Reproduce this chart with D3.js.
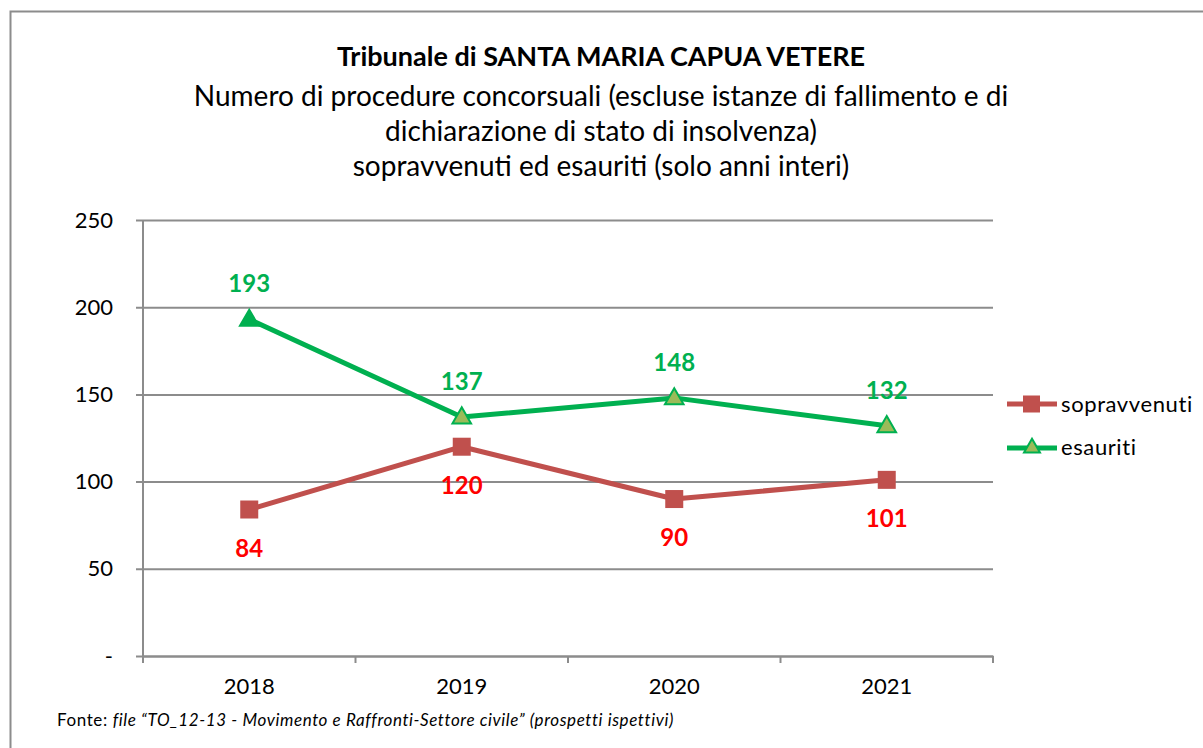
<!DOCTYPE html>
<html>
<head>
<meta charset="utf-8">
<script src="https://cdn.jsdelivr.net/npm/d3@7"></script>
<style>
body {margin:0; background:#ffffff;}
svg {display:block; font-family:Lato, "Open Sans", sans-serif;}
</style>
</head>
<body>
<svg id="chart"></svg>
<script>
//the years on the x axis
var years = ["2018","2019","2020","2021"];

//values
var sopravvenuti = [84,120,90,101];
var esauriti = [193,137,148,132];

//y axis ticks, 0 is shown as "-"
var yTicks = [0,50,100,150,200,250];

var titleLines = [
    "Numero di procedure concorsuali (escluse istanze di fallimento e di",
    "dichiarazione di stato di insolvenza)",
    "sopravvenuti ed esauriti (solo anni interi)"
];

var screen = {width:1203, height:748};
var margins = {top:220, bottom:92, left:143, right:210};
var graph =
{
    width:screen.width-margins.left-margins.right,
    height:screen.height-margins.top-margins.bottom
};

var svg = d3.select("#chart")
    .attr("width",screen.width)
    .attr("height",screen.height);

//outer frame of the chart
svg.append("rect")
    .attr("x",10.5)
    .attr("y",11.5)
    .attr("width",1300)
    .attr("height",900)
    .attr("fill","white")
    .attr("stroke","#8c8c8c")
    .attr("stroke-width",2);

//titles
svg.append("text")
    .attr("x",601)
    .attr("y",66)
    .attr("text-anchor","middle")
    .attr("font-weight","bold")
    .attr("font-size",27)
    .attr("fill","#000")
    .text("Tribunale di SANTA MARIA CAPUA VETERE");

svg.selectAll(".sub")
    .data(titleLines)
    .enter()
    .append("text")
    .attr("x",601)
    .attr("y",function(d,i){return 106+i*35;})
    .attr("text-anchor","middle")
    .attr("font-size",28)
    .attr("fill","#000")
    .text(function(d){return d;});

var xScale = d3.scaleBand()
    .domain(years)
    .range([0,graph.width]);

var yScale = d3.scaleLinear()
    .domain([0,250])
    .range([graph.height,0]);

var g = svg.append("g")
    .attr("transform","translate("+margins.left+","+margins.top+")");

//gridlines with the small ticks to the left
var yAxis = d3.axisLeft(yScale)
    .tickValues(yTicks)
    .tickSize(-graph.width)
    .tickPadding(30)
    .tickFormat(function(d){return d==0 ? "-" : d;});

g.append("g")
    .call(yAxis)
    .call(function(a){
        a.select(".domain").remove();
        a.selectAll("line")
            .attr("x1",-7)
            .attr("stroke","#8c8c8c")
            .attr("stroke-width",2);
        a.selectAll("text")
            .attr("font-size",22)
            .attr("font-family","Lato, sans-serif")
            .attr("fill","#000");
    });

//y axis line
g.append("line")
    .attr("x1",0).attr("x2",0)
    .attr("y1",0).attr("y2",graph.height+6)
    .attr("stroke","#8c8c8c")
    .attr("stroke-width",2);

//x axis with ticks between the categories
var xAxis = d3.axisBottom(xScale)
    .tickSize(0)
    .tickPadding(22);

g.append("g")
    .attr("transform","translate(0,"+graph.height+")")
    .call(xAxis)
    .call(function(a){
        a.select(".domain").attr("stroke","#8c8c8c").attr("stroke-width",2);
        a.selectAll("text")
            .attr("font-size",22)
            .attr("font-family","Lato, sans-serif")
            .attr("fill","#000");
    });

g.selectAll(".xtick")
    .data(years.concat(["end"]))
    .enter()
    .append("line")
    .attr("x1",function(d,i){return i*xScale.step();})
    .attr("x2",function(d,i){return i*xScale.step();})
    .attr("y1",graph.height)
    .attr("y2",graph.height+7)
    .attr("stroke","#8c8c8c")
    .attr("stroke-width",2);

var cx = function(i){return xScale(years[i])+xScale.bandwidth()/2;};

var line = d3.line()
    .x(function(d,i){return cx(i);})
    .y(function(d){return yScale(d);});

//sopravvenuti line
g.append("path")
    .datum(sopravvenuti)
    .attr("d",line)
    .attr("fill","none")
    .attr("stroke","#c0504d")
    .attr("stroke-width",5)
    .attr("stroke-linejoin","round");

//esauriti line
g.append("path")
    .datum(esauriti)
    .attr("d",line)
    .attr("fill","none")
    .attr("stroke","#00b050")
    .attr("stroke-width",5)
    .attr("stroke-linejoin","round");

//square markers
g.selectAll(".sq")
    .data(sopravvenuti)
    .enter()
    .append("rect")
    .attr("x",function(d,i){return cx(i)-9;})
    .attr("y",function(d){return yScale(d)-9;})
    .attr("width",18)
    .attr("height",18)
    .attr("fill","#c0504d");

//triangle markers
var tri = d3.symbol().type(d3.symbolTriangle).size(150);
g.selectAll(".tri")
    .data(esauriti)
    .enter()
    .append("path")
    .attr("d",tri)
    .attr("transform",function(d,i){return "translate("+cx(i)+","+(yScale(d)+1)+")";})
    .attr("fill",function(d,i){return i==0 ? "#00b050" : "#9bbb59";})
    .attr("stroke","#00b050")
    .attr("stroke-width",2);

//data labels
g.selectAll(".lblS")
    .data(sopravvenuti)
    .enter()
    .append("text")
    .attr("x",function(d,i){return cx(i);})
    .attr("y",function(d){return yScale(d)+47;})
    .attr("text-anchor","middle")
    .attr("font-weight","bold")
    .attr("font-size",24)
    .attr("fill","#ff0000")
    .text(function(d){return d;});

g.selectAll(".lblE")
    .data(esauriti)
    .enter()
    .append("text")
    .attr("x",function(d,i){return cx(i);})
    .attr("y",function(d){return yScale(d)-27;})
    .attr("text-anchor","middle")
    .attr("font-weight","bold")
    .attr("font-size",24)
    .attr("fill","#00b050")
    .text(function(d){return d;});

//legend
var legend = svg.append("g")
    .attr("transform","translate(1007,404)");

legend.append("line")
    .attr("x1",0).attr("x2",50)
    .attr("stroke","#c0504d").attr("stroke-width",5);
legend.append("rect")
    .attr("x",16).attr("y",-8.5)
    .attr("width",17).attr("height",17)
    .attr("fill","#c0504d");
legend.append("text")
    .attr("x",54).attr("y",8)
    .attr("font-size",22)
    .attr("letter-spacing",0.6)
    .attr("fill","#000")
    .text("sopravvenuti");

legend.append("line")
    .attr("x1",0).attr("x2",50)
    .attr("y1",44).attr("y2",44)
    .attr("stroke","#00b050").attr("stroke-width",5);
legend.append("path")
    .attr("d",d3.symbol().type(d3.symbolTriangle).size(110))
    .attr("transform","translate(25,44)")
    .attr("fill","#9bbb59")
    .attr("stroke","#00b050")
    .attr("stroke-width",2);
legend.append("text")
    .attr("x",54).attr("y",51)
    .attr("font-size",22)
    .attr("letter-spacing",0.6)
    .attr("fill","#000")
    .text("esauriti");

//source note
var note = svg.append("text")
    .attr("x",57)
    .attr("y",726)
    .attr("font-size",17)
    .attr("letter-spacing",0.6)
    .attr("fill","#000");
note.append("tspan").text("Fonte: ");
note.append("tspan")
    .attr("font-style","italic")
    .text("file \u201cTO_12-13 - Movimento e Raffronti-Settore civile\u201d (prospetti ispettivi)");
</script>
</body>
</html>
